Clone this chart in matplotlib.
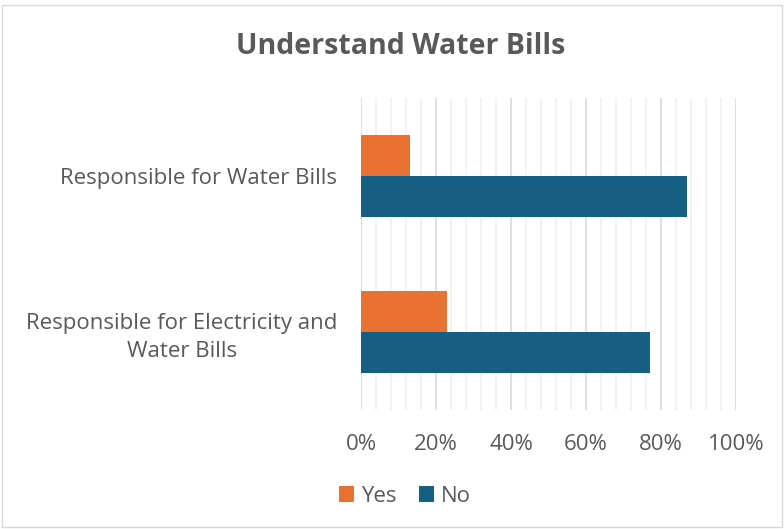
import matplotlib
matplotlib.use('Agg')
import matplotlib.pyplot as plt
import matplotlib.ticker as mticker
from matplotlib.patches import Rectangle
import numpy as np

# Survey responses (share of respondents)
categories = ['Responsible for Electricity and\nWater Bills',
              'Responsible for Water Bills']
yes_share = [0.23, 0.13]
no_share = [0.77, 0.87]
series_names = ['Yes', 'No']

ORANGE = '#E97132'
BLUE = '#156082'
TEXT = '#595959'

plt.rcParams['font.family'] = ['Open Sans', 'DejaVu Sans']

fig = plt.figure(figsize=(7.84, 5.29), dpi=100)
ax = fig.add_axes([361 / 784, 1 - 410 / 529, 375 / 784, 312 / 529])

y = np.arange(len(categories))
h = 0.263
ax.barh(y + h / 2, yes_share, height=h, color=ORANGE, label=series_names[0], zorder=3)
ax.barh(y - h / 2, no_share, height=h, color=BLUE, label=series_names[1], zorder=3)

ax.set_xlim(0, 1)
ax.set_ylim(-0.5, 1.5)
ax.xaxis.set_major_locator(mticker.MultipleLocator(0.2))
ax.xaxis.set_minor_locator(mticker.MultipleLocator(0.04))
ax.xaxis.set_major_formatter(mticker.PercentFormatter(1.0, decimals=0))
ax.grid(axis='x', which='major', color='#d9d9d9', linewidth=1.2, zorder=0)
ax.grid(axis='x', which='minor', color='#f0f0f0', linewidth=1.2, zorder=0)
ax.set_axisbelow(True)

ax.set_yticks(y)
ax.set_yticklabels(categories, multialignment='center', linespacing=1.4)
ax.tick_params(axis='y', length=0, pad=17, labelsize=16, labelcolor=TEXT)
ax.tick_params(axis='x', which='both', length=0, pad=17, labelsize=16, labelcolor=TEXT)
for s in ax.spines.values():
    s.set_visible(False)

fig.text(401 / 784, 1 - 47 / 529, 'Understand Water Bills', ha='center', va='center',
         fontsize=20.5, fontweight='bold', color=TEXT)

fig.legend(loc='center', bbox_to_anchor=(405 / 784, 1 - 496 / 529), ncol=2,
           frameon=False, fontsize=16, labelcolor=TEXT, handlelength=0.7,
           handleheight=0.7, handletextpad=0.3, columnspacing=1.0)

# light chart-area border
fig.patches.append(Rectangle((2 / 784, 2 / 529), 780 / 784, 1 - 7 / 529,
                             transform=fig.transFigure, fill=False,
                             edgecolor='#d9d9d9', linewidth=1))

fig.savefig('out.png', dpi=100)
